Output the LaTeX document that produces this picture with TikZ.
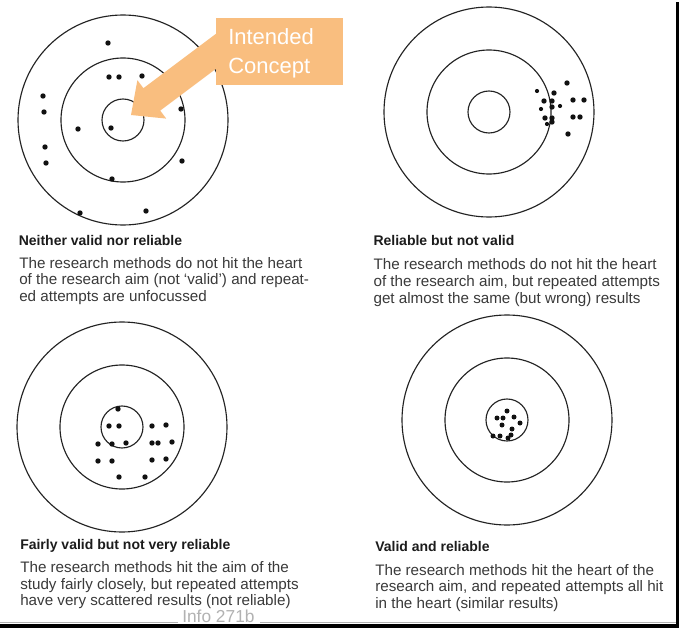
\documentclass[tikz,border=0pt]{standalone}
\usepackage{fontspec}
\setmainfont{Liberation Sans}
\definecolor{ringcol}{HTML}{222222}
\definecolor{dotcol}{HTML}{111111}
\definecolor{headcol}{HTML}{1C1C1C}
\definecolor{bodycol}{HTML}{3A3A3A}
\definecolor{notecol}{HTML}{B2B2B2}
\definecolor{callout}{HTML}{F9BE7F}
\begin{document}
\begin{tikzpicture}[x=0.75pt,y=-0.75pt,
  ring/.style={draw=ringcol,line width=0.85pt},
  caption/.style={anchor=base west,inner sep=0pt,text=headcol,font=\fontsize{10.5}{12}\selectfont\bfseries},
  bodyline/.style={anchor=base west,inner sep=0pt,text=bodycol,font=\fontsize{11.4}{13}\selectfont},
  calltext/.style={anchor=base west,inner sep=0pt,text=white,font=\fontsize{16.5}{19}\selectfont}]
\useasboundingbox (0,0) rectangle (679,628);
\fill[white] (0,0) rectangle (679,628);

% target centres
\coordinate (t1) at (123,120);
\coordinate (t2) at (489,112);
\coordinate (t3) at (122,427);
\coordinate (t4) at (507,420);

% three rings per target
\foreach \t in {t1,t2,t3,t4}
  \draw[ring] (\t) circle (105) (\t) circle (62) (\t) circle (21);

% shots: neither valid nor reliable
\foreach \p in {(108,43),(109,77),(119,77),(142,76),(43,96),(44,112),(181,109),
  (78,129),(111,128),(45,147),(46,163),(182,161),(112,179),(80,213),(146,211)}
  \fill[dotcol] \p circle (2.7);

% shots: reliable but not valid
\foreach \p in {(567,83),(554,93),(544,101),(552,101),(573,100),(584,100),
  (552,107),(545,118),(552,118),(552,122),(573,117),(580,117),(568,134)}
  \fill[dotcol] \p circle (2.7);
\foreach \p in {(537,91),(541,109),(560,106),(547,124)}
  \fill[dotcol] \p circle (2.1);

% shots: fairly valid but not very reliable
\foreach \p in {(118,409),(109,426),(119,426),(152,426),(166,425),(98,444),
  (112,444),(126,443),(152,443),(158,443),(172,442),(98,461),(112,461),
  (152,460),(166,459),(119,477),(145,477)}
  \fill[dotcol] \p circle (2.7);

% shots: valid and reliable
\foreach \p in {(507,411),(497,418),(503,418),(514,417),(502,425),(520,423),
  (512,429),(493,436),(500,436),(511,435),(508,438)}
  \fill[dotcol] \p circle (2.5);

% callout arrow pointing at the bull's eye
\fill[callout] (131,115) -- (137.4,80.2) -- (143.4,88.2) -- (219.4,31.2)
  -- (236.2,53.6) -- (160.2,110.6) -- (166.2,118.6) -- cycle;
\fill[callout] (216,18) rectangle (343,85);
\node[calltext] (c1) at (228,45) {Intended};
\node[calltext] (c2) at (228,73) {Concept};

% captions
\node[caption] (h1) at (18.5,245.7) {Neither valid nor reliable};
\node[bodyline] (b1a) at (19,268) {The research methods do not hit the heart};
\node[bodyline] (b1b) at (19,284.5) {of the research aim (not ‘valid’) and repeat-};
\node[bodyline] (b1c) at (19,301) {ed attempts are unfocussed};

\node[caption] (h2) at (373.3,245) {Reliable but not valid};
\node[bodyline] (b2a) at (373.3,269) {The research methods do not hit the heart};
\node[bodyline] (b2b) at (373.3,286) {of the research aim, but repeated attempts};
\node[bodyline] (b2c) at (373.3,303) {get almost the same (but wrong) results};

\node[caption] (h3) at (20,549.5) {Fairly valid but not very reliable};
\node[bodyline] (b3a) at (20,572.5) {The research methods hit the aim of the};
\node[bodyline] (b3b) at (20,589) {study fairly closely, but repeated attempts};
\node[bodyline] (b3c) at (20,605.5) {have very scattered results (not reliable)};

\node[caption] (h4) at (375,551.5) {Valid and reliable};
\node[bodyline] (b4a) at (375,575) {The research methods hit the heart of the};
\node[bodyline] (b4b) at (375,591.5) {research aim, and repeated attempts all hit};
\node[bodyline] (b4c) at (375,608) {in the heart (similar results)};

% footer rule, label and frame edges
\draw[notecol,line width=0.6pt] (0,622.3) -- (178,622.3) (260,622.3) -- (676,622.3);
\node[anchor=base west,inner sep=0pt,text=notecol,font=\fontsize{13}{16}\selectfont] (info) at (182,622.6) {Info 271b};
\fill[black] (0,623.6) rectangle (679,628);
\fill[black] (676.3,2) rectangle (679,628);
\end{tikzpicture}
\end{document}
